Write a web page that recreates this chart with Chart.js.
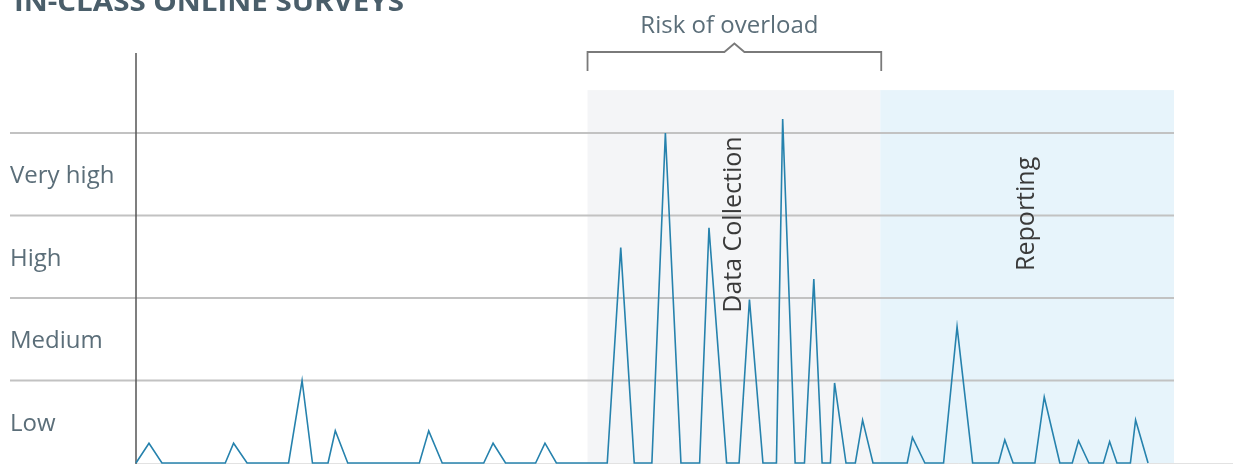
<!DOCTYPE html>
<html><head><meta charset="utf-8">
<script src="https://cdn.jsdelivr.net/npm/chart.js@4"></script>
<style>html,body{margin:0;padding:0;background:#fff;overflow:hidden}canvas{display:block}</style>
</head><body>
<canvas id="c" width="1233" height="464"></canvas>
<script>
// ---- data ----
const title = "IN-CLASS ONLINE SURVEYS";
const levelLabels = ["Low", "Medium", "High", "Very high"];
const phaseNames = ["Data Collection", "Reporting"];
const phaseStart = [43.5, 71.7];
const phaseEnd = [71.7, 100];
const phaseTop = 4.52;
const riskLabel = "Risk of overload";
// timeline position (0-100) and workload level (0 = none, 1 = Low ... 4 = Very high)
const timeline = [0, 1.25, 2.5, 8.6, 9.4, 10.7, 14.7, 16.0, 17.0, 18.5, 19.2, 20.4,
  27.3, 28.2, 29.5, 33.5, 34.4, 35.6, 38.5, 39.4, 40.5,
  45.4, 46.7, 48.0, 49.7, 51.0, 52.5, 54.3, 55.2, 56.9, 58.1, 59.1, 60.4,
  61.7, 62.3, 63.5, 64.4, 65.3, 66.1, 66.9, 67.3, 68.4, 69.3, 70.0, 71.0,
  74.3, 74.8, 76.0, 77.8, 79.1, 80.6, 83.1, 83.7, 84.5, 86.6, 87.5, 89.0,
  90.2, 90.8, 91.8, 93.2, 93.8, 94.5, 95.8, 96.3, 97.5];
const workload = [0, 0.24, 0, 0, 0.24, 0, 0, 1.0, 0, 0, 0.39, 0,
  0, 0.39, 0, 0, 0.24, 0, 0, 0.24, 0,
  0, 2.61, 0, 0, 4.0, 0, 0, 2.85, 0, 0, 1.98, 0,
  0, 4.17, 0, 0, 2.23, 0, 0, 0.97, 0, 0, 0.52, 0,
  0, 0.31, 0, 0, 1.65, 0, 0, 0.28, 0, 0, 0.8, 0,
  0, 0.27, 0, 0, 0.26, 0, 0, 0.52, 0];

const decor = {
  id: 'decor',
  beforeDatasetsDraw(chart) {
    const {ctx, scales: {x, y}, chartArea} = chart;
    const W = chart.width, H = chart.height;
    ctx.save();
    // phase bands
    const bandColors = ['#f4f5f7', '#e7f4fb'];
    phaseNames.forEach((n, i) => {
      const x0 = x.getPixelForValue(phaseStart[i]);
      const x1 = x.getPixelForValue(phaseEnd[i]);
      const yt = y.getPixelForValue(phaseTop);
      ctx.fillStyle = bandColors[i];
      ctx.fillRect(x0, yt, x1 - x0, H - yt);
    });
    // baseline
    ctx.strokeStyle = '#e2e2e2';
    ctx.lineWidth = 1;
    ctx.beginPath();
    ctx.moveTo(chartArea.left, y.getPixelForValue(0) + 0.5);
    ctx.lineTo(W, y.getPixelForValue(0) + 0.5);
    ctx.stroke();
    // gridlines
    ctx.strokeStyle = '#c2c2c2';
    ctx.lineWidth = 2;
    const xr = x.getPixelForValue(100);
    for (let v = 1; v <= levelLabels.length; v++) {
      const py = y.getPixelForValue(v);
      ctx.beginPath();
      ctx.moveTo(10, py);
      ctx.lineTo(xr, py);
      ctx.stroke();
    }
    // y axis line
    ctx.strokeStyle = '#555';
    ctx.lineWidth = 1.5;
    ctx.beginPath();
    ctx.moveTo(chartArea.left, 53);
    ctx.lineTo(chartArea.left, H);
    ctx.stroke();
    // level labels
    ctx.fillStyle = '#5b6e79';
    ctx.font = '24px "Open Sans"';
    ctx.textBaseline = 'middle';
    ctx.textAlign = 'left';
    levelLabels.forEach((l, i) => {
      ctx.fillText(l, 10, y.getPixelForValue(i + 0.5) + 2);
    });
    // phase labels (rotated)
    const labelY = [2.89, 3.02];
    ctx.fillStyle = '#3a3a3a';
    ctx.font = '25px "Open Sans"';
    ctx.textAlign = 'center';
    ctx.textBaseline = 'middle';
    phaseNames.forEach((n, i) => {
      const cx = (x.getPixelForValue(phaseStart[i]) + x.getPixelForValue(phaseEnd[i])) / 2;
      const cy = y.getPixelForValue(labelY[i]);
      ctx.save();
      ctx.translate(cx, cy);
      ctx.rotate(-Math.PI / 2);
      ctx.fillText(n, 0, 0);
      ctx.restore();
    });
    // bracket over data collection
    const bx0 = x.getPixelForValue(phaseStart[0]);
    const bx1 = x.getPixelForValue(phaseEnd[0]) + 1;
    const bm = (bx0 + bx1) / 2;
    ctx.strokeStyle = '#7a7a7a';
    ctx.lineWidth = 1.8;
    ctx.beginPath();
    ctx.moveTo(bx0, 71);
    ctx.lineTo(bx0, 52);
    ctx.lineTo(bm - 10, 52);
    ctx.lineTo(bm, 43.5);
    ctx.lineTo(bm + 10, 52);
    ctx.lineTo(bx1, 52);
    ctx.lineTo(bx1, 71);
    ctx.stroke();
    ctx.fillStyle = '#5b6e79';
    ctx.font = '24px "Open Sans"';
    ctx.textAlign = 'center';
    ctx.textBaseline = 'alphabetic';
    ctx.fillText(riskLabel, bm - 5, 33);
    // title (cut at top)
    ctx.fillStyle = '#4a5e6a';
    ctx.font = 'bold 27px "Open Sans"';
    ctx.textAlign = 'left';
    const tw = ctx.measureText(title).width;
    ctx.save();
    ctx.translate(14, 10.5);
    ctx.scale(390 / tw, 1);
    ctx.fillText(title, 0, 0);
    ctx.restore();
    ctx.restore();
  }
};

new Chart(document.getElementById('c'), {
  type: 'line',
  data: {
    datasets: [{
      data: timeline.map((t, i) => ({x: t, y: workload[i]})),
      borderColor: '#2682ad',
      borderWidth: 1.6,
      pointRadius: 0,
      tension: 0,
      fill: false,
      clip: false
    }]
  },
  options: {
    responsive: false,
    animation: false,
    devicePixelRatio: 1,
    layout: {padding: {left: 136, right: 59, top: 50.5, bottom: 1}},
    scales: {
      x: {type: 'linear', min: 0, max: 100, display: false},
      y: {min: 0, max: 5, display: false}
    },
    plugins: {legend: {display: false}, tooltip: {enabled: false}}
  },
  plugins: [decor]
});
</script>
</body></html>
